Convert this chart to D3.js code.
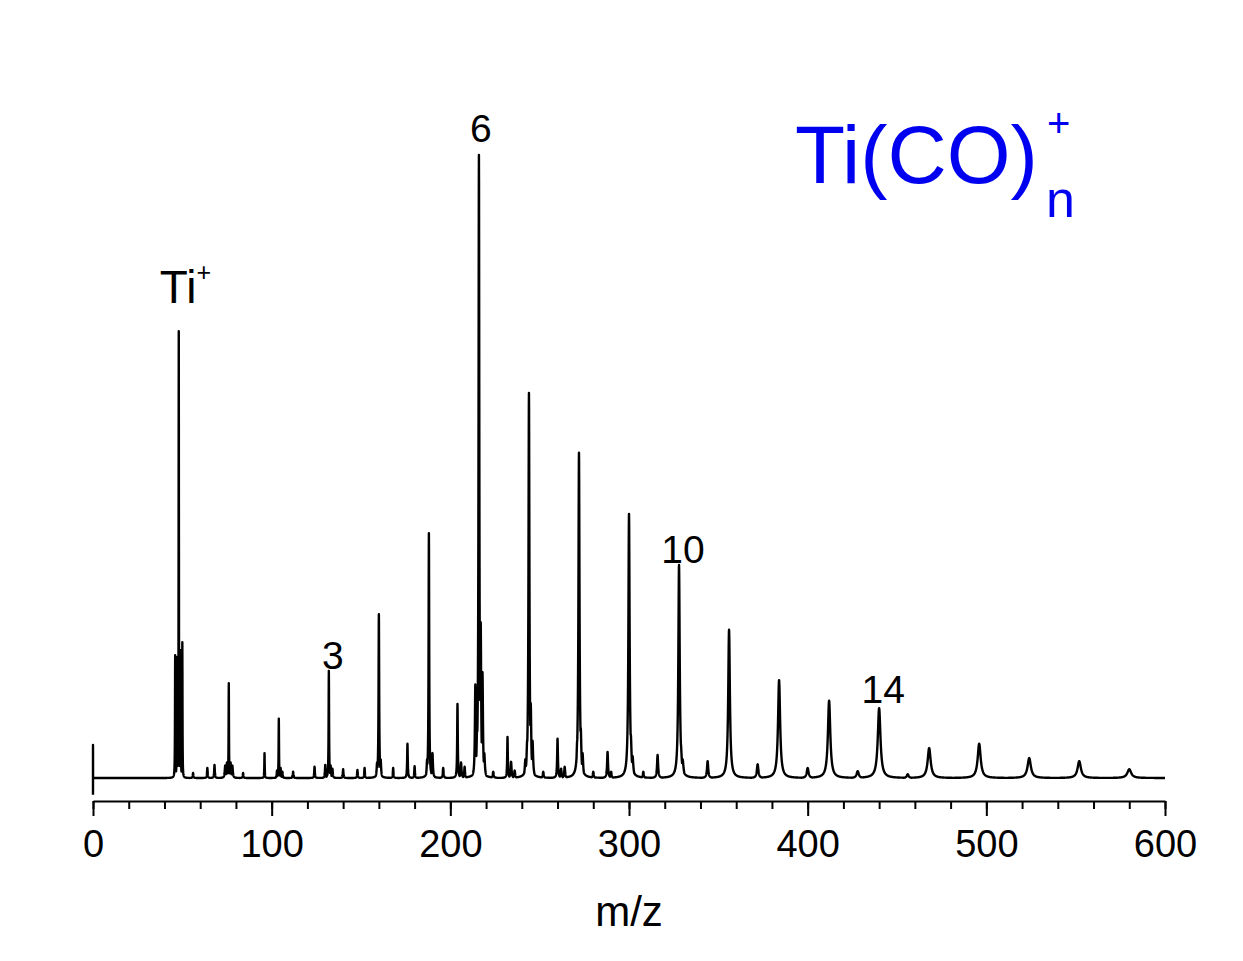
<!DOCTYPE html>
<html>
<head>
<meta charset="utf-8">
<script src="https://cdn.jsdelivr.net/npm/d3@7"></script>
<style>
  body { margin: 0; background: #fff; }
  text { font-family: "Liberation Sans", Arial, sans-serif; }
</style>
</head>
<body>
<svg id="chart" width="1243" height="961"></svg>
<script>
// peak list: m/z, relative height (6-mer = 100), half width (m/z)
var peakMz = [46, 47, 48, 49, 50, 56, 64, 68,
    74, 75, 76, 77, 78, 84, 96, 103, 104, 105, 106, 112,
    124, 130, 132, 133, 134, 140, 148, 152,
    159, 160, 161, 168, 176, 180, 187, 188, 190, 196, 204, 206, 208,
    214, 215, 216, 217, 218, 219, 224, 232, 234, 236,
    242, 243, 244, 245, 246, 252, 260, 262, 264,
    271, 272, 273, 274, 280, 288, 290,
    299, 300, 301, 302, 308, 316,
    327, 328, 329, 330, 344, 355, 356, 357, 372,
    384, 385, 400, 412, 413, 428, 440, 456, 468, 496, 524, 552, 580];
var peakHeight = [19.7, 19.4, 71.7, 20.5, 21.8, 0.8, 1.6, 2.1,
    2.0, 2.5, 15.2, 2.5, 2.0, 0.8, 4.0, 1.2, 9.5, 1.6, 1.0, 1.0,
    1.8, 2.1, 17.2, 2.0, 1.5, 1.4, 1.3, 1.6,
    2.5, 26.3, 3.0, 1.6, 5.5, 1.9, 3.0, 39.3, 4.0, 1.6, 11.9, 2.5, 1.8,
    15, 8, 100, 25, 17, 4, 1.0, 6.6, 2.6, 1.2,
    3, 6, 61.8, 12, 6, 1.0, 6.3, 1.5, 1.8,
    6, 52.2, 8, 4, 1.0, 4.2, 1.0,
    5, 42.4, 7, 3.5, 1.0, 3.7,
    4.5, 34.2, 5.5, 3, 2.7, 4, 23.8, 4.5, 2.2,
    15.7, 3.5, 1.6, 12.4, 3, 1.1, 11.2, 0.6, 4.8, 5.5, 3.2, 2.7, 1.4];
var peakWidth = [0.12, 0.12, 0.1, 0.12, 0.1, 0.2, 0.2, 0.2,
    0.3, 0.3, 0.12, 0.3, 0.3, 0.2, 0.12, 0.2, 0.13, 0.2, 0.2, 0.2,
    0.2, 0.2, 0.15, 0.25, 0.25, 0.2, 0.2, 0.2,
    0.3, 0.2, 0.3, 0.2, 0.2, 0.2, 0.3, 0.2, 0.3, 0.25, 0.2, 0.3, 0.25,
    0.3, 0.4, 0.25, 0.3, 0.3, 0.4, 0.3, 0.2, 0.3, 0.3,
    0.4, 0.4, 0.3, 0.35, 0.4, 0.3, 0.25, 0.3, 0.3,
    0.4, 0.35, 0.4, 0.4, 0.3, 0.3, 0.3,
    0.5, 0.4, 0.5, 0.5, 0.3, 0.35,
    0.6, 0.45, 0.6, 0.6, 0.4, 0.6, 0.55, 0.6, 0.5,
    0.7, 0.8, 0.6, 0.8, 0.9, 0.7, 0.9, 0.6, 1.0, 1.0, 1.1, 1.1, 1.3];
// artefact at the very start of the trace (dip then spike at m/z 0)
var startSpike = [-2.7, 5.3];

var xTicks = [0, 100, 200, 300, 400, 500, 600];
var xMinorTicks = d3.range(0, 601, 20);

var labelMz = [48, 132, 216, 328, 440];
var labelText = ["Ti", "3", "6", "10", "14"];

// label placement relative to peak top (px)
var labelShift = {
    48: {dx: -19, dy: -28},
    132: {dx: 4, dy: -2},
    216: {dx: 2, dy: -13},
    328: {dx: 4, dy: -2},
    440: {dx: 4, dy: -5}
};

var svg = d3.select('#chart');

var x = d3.scaleLinear().domain([0, 600]).range([93, 1165]);
var y = d3.scaleLinear().domain([0, 100]).range([778, 155]);

// build the trace: envelope of lorentzian peaks, sampled finely
var samples = d3.range(0, 600.0001, 0.05).concat(peakMz).sort(d3.ascending);
var trace = [[0, startSpike[0]], [0, startSpike[1]]];
samples.forEach(function(m) {
    if (m === 0) return;
    var v = 0;
    for (var i = 0; i < peakMz.length; i++) {
        var d = m - peakMz[i], w = peakWidth[i];
        if (Math.abs(d) > 40 * w) continue;
        v = Math.max(v, peakHeight[i] * w * w / (d * d + w * w));
    }
    trace.push([m, v]);
});

var line = d3.line()
    .x(function(d) {return x(d[0]);})
    .y(function(d) {return y(d[1]);});

svg.append('path')
    .datum(trace)
    .attr('d', line)
    .attr('fill', 'none')
    .attr('stroke', '#000')
    .attr('stroke-width', 2.4)
    .attr('stroke-linejoin', 'round');

// x axis: minor ticks then major ticks with labels
var axisY = 801;
svg.append('g')
    .attr('transform', 'translate(0,' + axisY + ')')
    .call(d3.axisBottom(x).tickValues(xMinorTicks).tickSize(8).tickSizeOuter(0).tickFormat(''))
    .call(function(g) {
        g.select('.domain').attr('stroke-width', 2);
        g.selectAll('.tick line').attr('stroke-width', 2);
    });

svg.append('g')
    .attr('transform', 'translate(0,' + axisY + ')')
    .call(d3.axisBottom(x).tickValues(xTicks).tickSize(15).tickSizeOuter(0))
    .call(function(g) {
        g.select('.domain').remove();
        g.selectAll('.tick line').attr('stroke-width', 2);
        g.selectAll('.tick text')
            .attr('y', 56)
            .attr('dy', null)
            .attr('font-family', '"Liberation Sans", Arial, sans-serif')
            .attr('font-size', 38)
            .attr('fill', '#000');
    });

svg.append('text')
    .attr('x', 629)
    .attr('y', 926)
    .attr('text-anchor', 'middle')
    .attr('font-size', 42)
    .text('m/z');

// peak labels
labelMz.forEach(function(mz, k) {
    var top = peakHeight[peakMz.indexOf(mz)];
    var s = labelShift[mz];
    if (k === 0) {
        var t = svg.append('text')
            .attr('x', x(mz) + s.dx)
            .attr('y', y(top) + s.dy)
            .attr('font-size', 46)
            .text(labelText[k]);
        t.append('tspan')
            .attr('font-size', 25)
            .attr('dy', -22)
            .text('+');
    } else {
        svg.append('text')
            .attr('x', x(mz) + s.dx)
            .attr('y', y(top) + s.dy)
            .attr('text-anchor', 'middle')
            .attr('font-size', 39)
            .text(labelText[k]);
    }
});

// series title
var title = svg.append('g').attr('fill', '#0000f0');
title.append('text')
    .attr('x', 795)
    .attr('y', 183)
    .attr('font-size', 82)
    .text('Ti(CO)');
title.append('text')
    .attr('x', 1046)
    .attr('y', 217)
    .attr('font-size', 52)
    .text('n');
title.append('text')
    .attr('x', 1047)
    .attr('y', 137)
    .attr('font-size', 40)
    .text('+');
</script>
</body>
</html>
